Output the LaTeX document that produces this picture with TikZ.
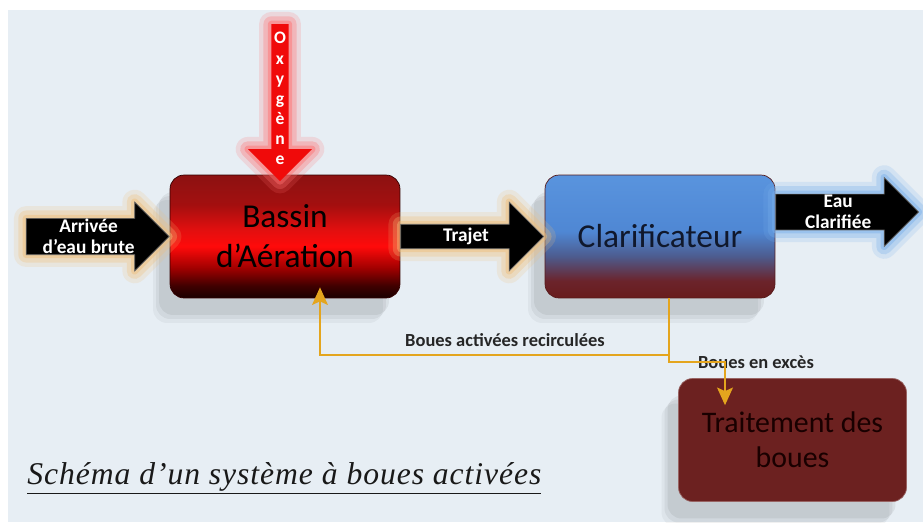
\documentclass[tikz,border=0pt]{standalone}
\usepackage{fontspec}
\setsansfont{Carlito}
\newfontfamily\captionfont[LetterSpace=3]{Liberation Serif}
\usetikzlibrary{positioning,calc,shapes.arrows,arrows.meta,shadows}

\definecolor{bgblue}{RGB}{231,238,244}
\definecolor{lineorange}{RGB}{228,165,30}
\definecolor{orangeglow}{RGB}{240,190,120}
\definecolor{blueglow}{RGB}{120,175,235}
\definecolor{redglow}{RGB}{255,110,110}
\definecolor{oxred}{RGB}{240,10,10}
\definecolor{mudred}{RGB}{108,33,32}
\definecolor{clarifink}{RGB}{16,24,44}

\pgfdeclareverticalshading{bassinshade}{100bp}{%
  rgb(0bp)=(0.10,0,0); rgb(25bp)=(0.10,0,0); rgb(30bp)=(0.25,0,0);
  rgb(37bp)=(0.62,0,0); rgb(46bp)=(1,0.04,0.04); rgb(53bp)=(0.88,0.06,0.06);
  rgb(63bp)=(0.64,0.06,0.06); rgb(75bp)=(0.55,0.07,0.07); rgb(100bp)=(0.55,0.07,0.07)}
\pgfdeclareverticalshading{clarifshade}{100bp}{%
  rgb(0bp)=(0.41,0.11,0.11); rgb(25bp)=(0.41,0.11,0.11); rgb(32bp)=(0.42,0.14,0.17);
  rgb(42bp)=(0.30,0.36,0.56); rgb(52bp)=(0.31,0.53,0.83); rgb(75bp)=(0.35,0.58,0.87);
  rgb(100bp)=(0.35,0.58,0.87)}

\begin{document}
\begin{tikzpicture}[
    x=0.02cm,
    y=-0.02cm,
    box/.style={
        rounded corners=8pt,
        minimum width=4.6cm,
        minimum height=2.46cm,
        align=center,
        font=\sffamily\fontsize{19}{22.7}\selectfont,
        drop shadow={shadow xshift=-0.34cm, shadow yshift=-0.5cm, opacity=0.04, fill=black},
        drop shadow={shadow xshift=-0.28cm, shadow yshift=-0.42cm, opacity=0.05, fill=black},
        drop shadow={shadow xshift=-0.22cm, shadow yshift=-0.34cm, opacity=0.06, fill=black}
    },
    pipe/.style={
        single arrow,
        single arrow head extend=0.32cm,
        minimum height=2.86cm,
        minimum width=1.38cm,
        inner sep=0pt,
        fill=black,
        draw=black!60,
        line width=0.4pt,
        align=center,
        text=white,
        font=\sffamily\bfseries\fontsize{11}{12}\selectfont
    },
    glow/.style={
        preaction={draw=#1, line width=14pt, opacity=0.18, line join=round},
        preaction={draw=#1, line width=9pt, opacity=0.3, line join=round},
        preaction={draw=#1, line width=4pt, opacity=0.45, line join=round}
    },
    flow/.style={
        -{Stealth[width=9pt, length=10pt, inset=2pt]},
        line width=1.2pt,
        draw=lineorange
    },
    note/.style={
        font=\sffamily\bfseries\fontsize{10.5}{12}\selectfont,
        text=black!85
    }
]

    \useasboundingbox (0,0) rectangle (923,522);
    \fill[white] (0,0) rectangle (923,522);
    \fill[bgblue] (8,10) rectangle (923,522);

    \node[
        box,
        shading=bassinshade,
        draw=black!80!red,
        text=black
    ] (bassin) at (285,236.5)
        {Bassin\\d’Aération};

    \node[
        box,
        shading=clarifshade,
        draw=mudred!80!black,
        text=clarifink
    ] (clarif) at (660,236.5)
        {Clarificateur};

    \node[
        box,
        minimum width=4.56cm,
        fill=mudred,
        draw=mudred!70!white,
        text=black!90!red,
        font=\sffamily\fontsize{17}{19.8}\selectfont
    ] (traitement) at (792.5,440)
        {Traitement des\\boues};

    \node[
        pipe,
        glow=orangeglow,
        anchor=tip
    ] (arrivee) at (bassin.west)
        {Arrivée\\d’eau brute};

    \node[
        pipe,
        glow=orangeglow,
        anchor=tail
    ] (trajet) at (bassin.east)
        {Trajet};

    \node[
        pipe,
        glow=blueglow,
        anchor=tail
    ] (eau) at ([yshift=0.49cm]clarif.east)
        {Eau\\Clarifiée};

    \node[
        single arrow,
        shape border rotate=270,
        single arrow head extend=0.34cm,
        minimum height=3.14cm,
        minimum width=1.28cm,
        inner sep=0pt,
        fill=oxred,
        glow=redglow,
        text=white,
        align=center,
        font=\sffamily\bfseries\fontsize{10}{11.4}\selectfont,
        anchor=tip
    ] (oxygene) at ([xshift=-0.1cm, yshift=-0.14cm]bassin.north)
        {O\\x\\y\\g\\è\\n\\e};

    \node[note] (recirc) at (505,340) {Boues activées recirculées};
    \node[note] (exces) at (756,362) {Boues en excès};

    \coordinate (split) at (669,355);

    \draw[flow]
        (split |- clarif.south)
        -- (split)
        -| ([xshift=0.7cm, yshift=0.22cm]bassin.south);

    \draw[flow]
        (split)
        -- ++(0,7)
        -| ([xshift=-1.35cm, yshift=-0.54cm]traitement.north);

    \node[
        anchor=base west,
        inner sep=0pt,
        font=\captionfont\itshape\fontsize{18}{20}\selectfont,
        text=black!90
    ] (caption) at (27,484)
        {\underline{Schéma d’un système à boues activées}};

\end{tikzpicture}
\end{document}
